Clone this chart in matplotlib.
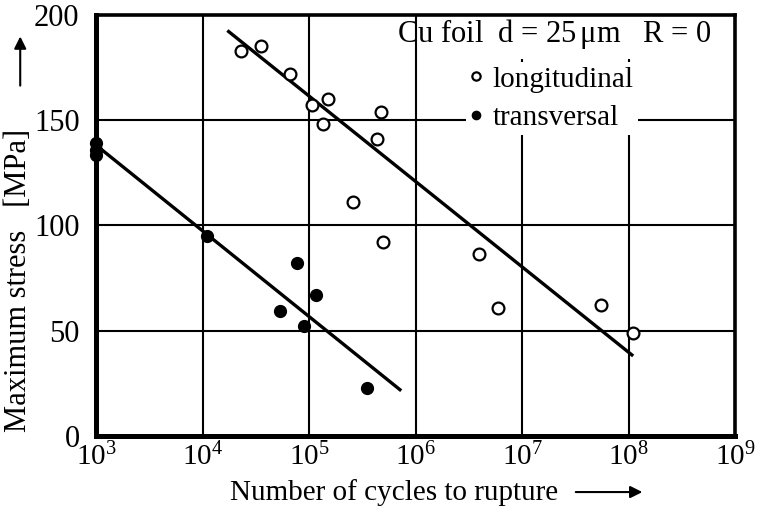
import numpy as np
import matplotlib
matplotlib.use("Agg")
import matplotlib.pyplot as plt
from matplotlib.patches import Rectangle

plt.rcParams['font.family'] = ['Liberation Serif', 'DejaVu Serif']
plt.rcParams['mathtext.fontset'] = 'custom'
plt.rcParams['mathtext.rm'] = 'Liberation Serif'
plt.rcParams['mathtext.it'] = 'Liberation Serif:italic'

# cycles to rupture and max stress, Cu foil 25 um, R = 0
long_N = [2.3e4, 3.5e4, 6.6e4, 1.05e5, 1.5e5, 1.35e5, 4.7e5, 4.3e5, 2.6e5, 4.9e5, 3.9e6, 5.9e6, 5.5e7, 1.1e8]
long_S = [183, 185, 172, 157, 160, 148, 154, 141, 111, 92, 86.5, 61, 62, 49]
trans_N = [1.0e3, 1.0e3, 1.0e3, 1.1e4, 7.6e4, 1.15e5, 5.3e4, 9.0e4, 3.5e5]
trans_S = [139, 136, 133.5, 95, 82, 67, 59.5, 52, 23]

# regression lines (end points)
long_fit_N = [1.75e4, 1.07e8]
long_fit_S = [192, 38.5]
trans_fit_N = [1.0e3, 7.1e5]
trans_fit_S = [138, 22]

decades = list(range(3, 10))
stress_ticks = [0, 50, 100, 150, 200]

fig = plt.figure(figsize=(7.58, 5.07), dpi=100)
ax = fig.add_axes([0.127, 0.140, 0.843, 0.831])

ax.set_xscale('log')
ax.set_xlim(1e3, 1e9)
ax.set_ylim(0, 200)
ax.set_xticks([10.0**k for k in decades])
ax.set_xticklabels([r'$10^{%d}$' % k for k in decades])
ax.set_yticks(stress_ticks)
ax.minorticks_off()
ax.grid(True, color='black', linewidth=1.5)
ax.tick_params(length=0)
ax.tick_params(axis='x', labelsize=21, pad=5)
ax.tick_params(axis='y', labelsize=22, pad=12)

for side in ['left', 'bottom']:
    ax.spines[side].set_linewidth(3.6)
for side in ['top', 'right']:
    ax.spines[side].set_linewidth(2.6)

ax.plot(long_fit_N, long_fit_S, color='black', lw=2.4, zorder=3)
ax.plot(trans_fit_N, trans_fit_S, color='black', lw=2.4, zorder=3)

ax.plot(long_N, long_S, 'o', ms=8.5, mfc='white', mec='black', mew=1.6,
        label='longitudinal', zorder=4, clip_on=False)
ax.plot(trans_N, trans_S, 'o', ms=8.5, mfc='black', mec='black',
        label='transversal', zorder=4, clip_on=False)

# white patch behind the heading (10^6 grid line stays visible)
ax.add_patch(Rectangle((0.54, 0.895), 0.445, 0.105, transform=ax.transAxes,
                       facecolor='white', edgecolor='none', zorder=2.5))
ax.text(0.717, 0.955, r'Cu foil  d = 25$\,\mathrm{\mu}$m   R = 0', transform=ax.transAxes,
        ha='center', va='center', fontsize=22, zorder=6)

leg = ax.legend(loc='upper left', bbox_to_anchor=(0.579, 0.888), fontsize=21,
                frameon=True, framealpha=1, edgecolor='none', facecolor='white',
                markerscale=0.7, handlelength=0.4, handletextpad=0.35,
                borderpad=0.15, labelspacing=0.4, fancybox=False, borderaxespad=0)
leg.set_zorder(5)

ax.set_xlabel('Number of cycles to rupture', fontsize=21)
ax.xaxis.set_label_coords(0.466, -0.102)
ax.set_ylabel('Maximum stress   [MPa]', fontsize=22)
ax.yaxis.set_label_coords(-0.099, 0.37)

ax.annotate('', xy=(0.859, -0.133), xytext=(0.746, -0.133), xycoords='axes fraction',
            arrowprops=dict(arrowstyle='-|>', color='black', lw=1.5, mutation_scale=18),
            annotation_clip=False)
ax.annotate('', xy=(-0.119, 0.955), xytext=(-0.119, 0.825), xycoords='axes fraction',
            arrowprops=dict(arrowstyle='-|>', color='black', lw=1.5, mutation_scale=18),
            annotation_clip=False)

fig.savefig('out.png', dpi=100)
